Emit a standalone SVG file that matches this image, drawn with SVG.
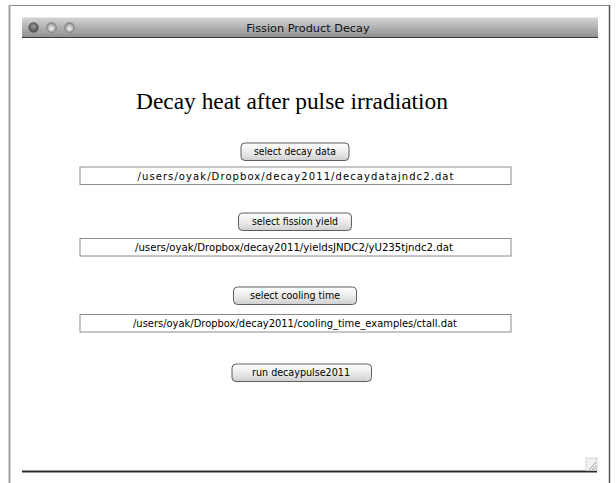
<svg xmlns="http://www.w3.org/2000/svg" width="616" height="483" viewBox="0 0 616 483">
<defs>
<linearGradient id="tb" x1="0" y1="0" x2="0" y2="1">
<stop offset="0" stop-color="#d4d4d4"/>
<stop offset="1" stop-color="#8e8e8e"/>
</linearGradient>
<linearGradient id="btn" x1="0" y1="0" x2="0" y2="1">
<stop offset="0" stop-color="#ffffff"/>
<stop offset="0.5" stop-color="#ececec"/>
<stop offset="1" stop-color="#cfcfcf"/>
</linearGradient>
<radialGradient id="lightDark" cx="0.5" cy="0.4" r="0.6">
<stop offset="0" stop-color="#9a9a9a"/>
<stop offset="1" stop-color="#4a4a4a"/>
</radialGradient>
<radialGradient id="lightPale" cx="0.5" cy="0.6" r="0.6">
<stop offset="0" stop-color="#f4f4f4"/>
<stop offset="1" stop-color="#8a8a8a"/>
</radialGradient>
</defs>
<style>
.btn rect{fill:url(#btn);stroke:#5e5e5e;stroke-width:1}
.btn text{font-family:"DejaVu Sans",sans-serif;font-size:9.6px;fill:#000;text-anchor:middle}
.fld rect{fill:#fff;stroke:#8c8c8c;stroke-width:1}
.fld text{font-family:"DejaVu Sans",sans-serif;font-size:10px;fill:#000;text-anchor:middle}
</style>
<rect width="616" height="483" fill="#fff"/>
<g id="frame">
<line x1="9" y1="5.5" x2="610" y2="5.5" stroke="#8a8a8a" stroke-width="1.2"/>
<line x1="9.5" y1="5" x2="9.5" y2="483" stroke="#a0a0a0" stroke-width="2"/>
<line x1="609.5" y1="5" x2="609.5" y2="483" stroke="#555" stroke-width="1.5"/>
</g>
<g id="titlebar">
<rect x="22" y="17.5" width="576" height="20" fill="url(#tb)"/>
<line x1="22" y1="37.5" x2="598" y2="37.5" stroke="#3c3c3c" stroke-width="1.2"/>
<circle cx="33.5" cy="27.5" r="4.8" fill="url(#lightDark)" stroke="#555" stroke-width="0.8"/>
<circle cx="51.5" cy="27.5" r="4.8" fill="url(#lightPale)" stroke="#777" stroke-width="0.8"/>
<circle cx="69.5" cy="27.5" r="4.8" fill="url(#lightPale)" stroke="#777" stroke-width="0.8"/>
<text x="308" y="31.5" font-family="DejaVu Sans, sans-serif" font-size="11.3" fill="#111" text-anchor="middle">Fission Product Decay</text>
</g>
<g id="heading">
<text x="292" y="109" font-family="Liberation Serif, serif" font-size="23.5" fill="#000" text-anchor="middle" textLength="312" lengthAdjust="spacingAndGlyphs">Decay heat after pulse irradiation</text>
</g>
<g id="btn-decay" class="btn">
<rect x="241" y="143" width="108" height="17.5" rx="4"/>
<text x="295" y="155" textLength="82" lengthAdjust="spacingAndGlyphs">select decay data</text>
</g>
<g id="field-decay" class="fld">
<rect x="80" y="167" width="431" height="17.5"/>
<text x="295.5" y="179.5" textLength="316" lengthAdjust="spacing">/users/oyak/Dropbox/decay2011/decaydatajndc2.dat</text>
</g>
<g id="btn-yield" class="btn">
<rect x="238.5" y="213" width="113" height="17.5" rx="4"/>
<text x="295" y="225" textLength="86" lengthAdjust="spacingAndGlyphs">select fission yield</text>
</g>
<g id="field-yield" class="fld">
<rect x="80" y="238.5" width="431" height="17.5"/>
<text x="294" y="251" textLength="318" lengthAdjust="spacingAndGlyphs">/users/oyak/Dropbox/decay2011/yieldsJNDC2/yU235tjndc2.dat</text>
</g>
<g id="btn-cooling" class="btn">
<rect x="233.5" y="287" width="123" height="17.5" rx="4"/>
<text x="295" y="299" textLength="90" lengthAdjust="spacingAndGlyphs">select cooling time</text>
</g>
<g id="field-cooling" class="fld">
<rect x="80" y="314.5" width="431" height="17.5"/>
<text x="295" y="327" textLength="324" lengthAdjust="spacingAndGlyphs">/users/oyak/Dropbox/decay2011/cooling_time_examples/ctall.dat</text>
</g>
<g id="btn-run" class="btn">
<rect x="232" y="364" width="139.5" height="17.5" rx="4"/>
<text x="301" y="376" textLength="98" lengthAdjust="spacingAndGlyphs">run decaypulse2011</text>
</g>
<g id="bottom">
<line x1="22" y1="471.5" x2="597" y2="471.5" stroke="#2a2a2a" stroke-width="2"/>
<rect x="586" y="458" width="11" height="12.5" fill="#f2f2f2" stroke="#c8c8c8" stroke-width="0.8"/>
<g stroke="#888" stroke-width="0.8">
<line x1="589" y1="470" x2="596" y2="462"/>
<line x1="592" y1="470" x2="596" y2="465.5"/>
<line x1="594.5" y1="470" x2="596.5" y2="468"/>
</g>
</g>
</svg>
